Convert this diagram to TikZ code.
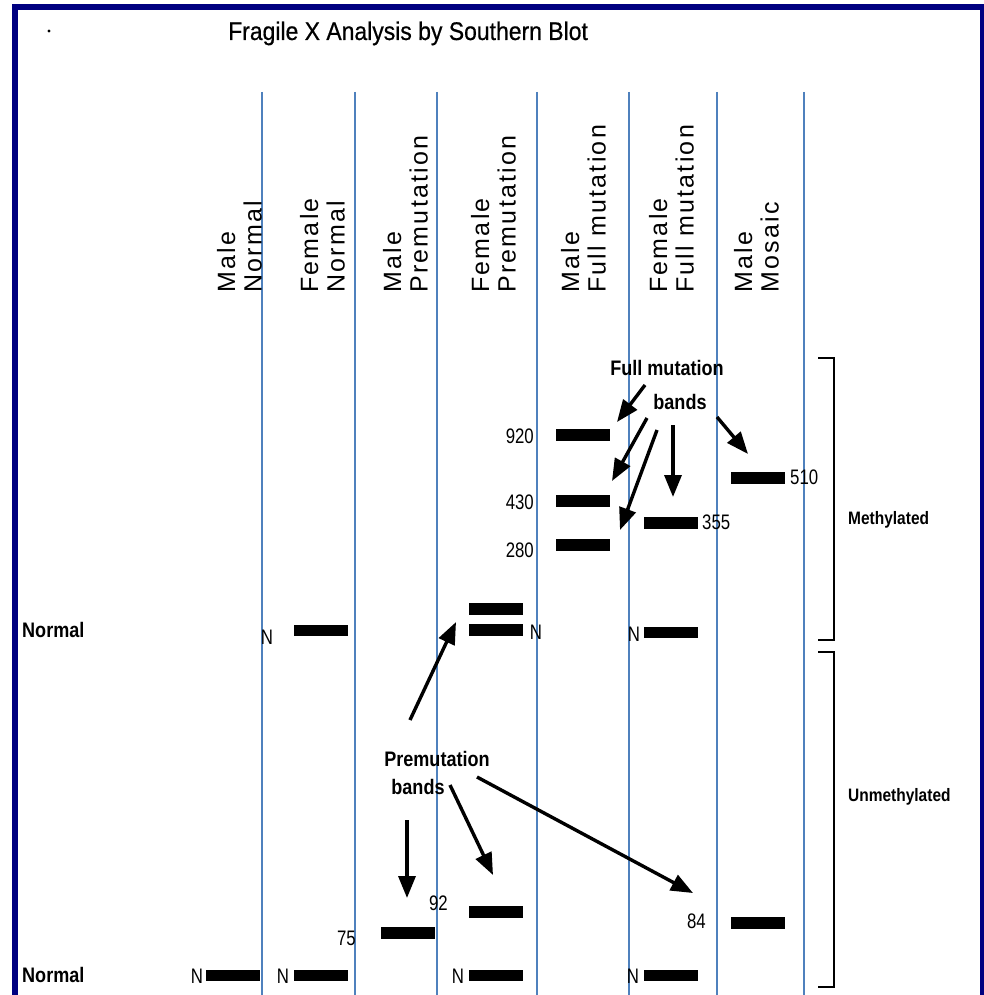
\documentclass[tikz,border=0pt]{standalone}
\usepackage{fontspec}
\setmainfont{Liberation Sans}
\newfontfamily\titlefont[FakeStretch=0.9,FakeBold=0.6]{Liberation Sans}
\newfontfamily\nbfont[FakeStretch=0.86]{Liberation Sans}
\newfontfamily\nrfont[FakeStretch=0.8]{Liberation Sans}
\newfontfamily\hdrfont[LetterSpace=9]{Liberation Sans}
\usetikzlibrary{arrows.meta}
\definecolor{framenavy}{RGB}{0,0,128}
\definecolor{colline}{RGB}{79,129,189}
\tikzset{
  vline/.style={draw=colline, line width=1.4pt},
  band/.style={fill=black, draw=none, minimum width=54pt, minimum height=11.5pt, inner sep=0pt},
  hdr/.style={rotate=90, anchor=south west, inner sep=0pt, align=left, font=\hdrfont\fontsize{25}{26.5}\selectfont},
  lbl/.style={inner sep=0pt, font=\nrfont\fontsize{21}{22}\selectfont},
  bold/.style={inner sep=0pt, font=\nbfont\bfseries\fontsize{21}{23}\selectfont},
  side/.style={inner sep=0pt, anchor=west, font=\nbfont\bfseries\fontsize{18}{20}\selectfont},
  arr/.style={line width=3.4pt, -{Triangle[length=22pt,width=17pt]}},
  brk/.style={line width=2.5pt}
}
\begin{document}
\begin{tikzpicture}[x=1pt,y=-1pt]
\useasboundingbox (0,0) rectangle (984,995);
\fill[white] (0,0) rectangle (984,995);
% frame
\draw[framenavy, line width=6pt] (15,1000) -- (15,7) -- (983,7) -- (983,1000);
\fill (49,31) circle (1.6);
% title
\node[inner sep=0pt, anchor=base west, font=\titlefont\fontsize{25.5}{27}\selectfont] (title) at (228,40) {Fragile X Analysis by Southern Blot};
% column lines
\foreach \x/\n in {262/l1,355/l2,437/l3,537/l4,629/l5,717/l6,804/l7}
  \draw[vline] (\x,92) coordinate (\n) -- (\x,995);
% headers
\node[hdr] (h1) at (262,293) {Male\\Normal};
\node[hdr] (h2) at (345,293) {Female\\Normal};
\node[hdr] (h3) at (428,293) {Male\\Premutation};
\node[hdr] (h4) at (516,293) {Female\\Premutation};
\node[hdr] (h5) at (606,293) {Male\\Full mutation};
\node[hdr] (h6) at (694,293) {Female\\Full mutation};
\node[hdr] (h7) at (779,293) {Male\\Mosaic};
% Normal labels
\node[bold, anchor=west] (nrm1) at (22,630) {Normal};
\node[bold, anchor=west] (nrm2) at (22,975) {Normal};
% row 1 bands
\node[band] (fn1) at (321,630.5) {};
\node[band] (fpa) at (495.5,609) {};
\node[band] (fpb) at (495.5,630) {};
\node[band] (ff1) at (670.5,632.5) {};
\node[lbl] (n1) at (267,637) {N};
\node[lbl] (n2) at (536,632) {N};
\node[lbl] (n3) at (634,634) {N};
% full mutation bands
\node[band] (b920) at (583,435) {};
\node[band] (b430) at (583,501) {};
\node[band] (b280) at (583,545) {};
\node[band] (b355) at (670.5,523) {};
\node[band] (b510) at (758,478) {};
\node[lbl, anchor=east] (t920) at (534,436) {920};
\node[lbl, anchor=east] (t430) at (534,502) {430};
\node[lbl, anchor=east] (t280) at (534,550) {280};
\node[lbl, anchor=west] (t355) at (702,522) {355};
\node[lbl, anchor=west] (t510) at (790,477) {510};
% premutation bands
\node[band] (b75) at (408,933) {};
\node[band] (b92) at (495.5,912) {};
\node[band] (b84) at (758,923) {};
\node[lbl, anchor=east] (t75) at (356,938) {75};
\node[lbl, anchor=east] (t92) at (448,903) {92};
\node[lbl, anchor=east] (t84) at (706,921) {84};
% bottom row
\node[band] (m1) at (233,975.5) {};
\node[band] (m2) at (321,975.5) {};
\node[band] (m4) at (495.5,975.5) {};
\node[band] (m6) at (670.5,975.5) {};
\node[lbl] (bn1) at (197,976) {N};
\node[lbl] (bn2) at (283,976) {N};
\node[lbl] (bn4) at (458,976) {N};
\node[lbl] (bn6) at (633,976) {N};
% annotation texts
\node[bold] (fm1) at (667,368) {Full mutation};
\node[bold] (fm2) at (680,402) {bands};
\node[bold] (pm1) at (437,759) {Premutation};
\node[bold] (pm2) at (418,787) {bands};
% arrows: full mutation
\coordinate (fa1s) at (645,385); \coordinate (fa1e) at (617,422);
\coordinate (fa2s) at (647,418); \coordinate (fa2e) at (612,481);
\coordinate (fa3s) at (657,430); \coordinate (fa3e) at (620,530);
\coordinate (fa4s) at (673,425); \coordinate (fa4e) at (673,497);
\coordinate (fa5s) at (717,417); \coordinate (fa5e) at (748,454);
\draw[arr] (fa1s) -- (fa1e);
\draw[arr] (fa2s) -- (fa2e);
\draw[arr] (fa3s) -- (fa3e);
\draw[arr] (fa4s) -- (fa4e);
\draw[arr] (fa5s) -- (fa5e);
% arrows: premutation
\coordinate (pa1s) at (410,720); \coordinate (pa1e) at (456,622);
\coordinate (pa2s) at (407,820); \coordinate (pa2e) at (407,898);
\coordinate (pa3s) at (450,785); \coordinate (pa3e) at (493,875);
\coordinate (pa4s) at (477,777); \coordinate (pa4e) at (693,893);
\draw[arr] (pa1s) -- (pa1e);
\draw[arr] (pa2s) -- (pa2e);
\draw[arr] (pa3s) -- (pa3e);
\draw[arr] (pa4s) -- (pa4e);
% brackets
\draw[brk] (818,358) -- (834,358) -- (834,640) -- (818,640);
\draw[brk] (818,652) -- (834,652) -- (834,987) -- (818,987);
\node[side] (meth) at (848,520) {Methylated};
\node[side] (unmeth) at (848,797) {Unmethylated};
\end{tikzpicture}
\end{document}
